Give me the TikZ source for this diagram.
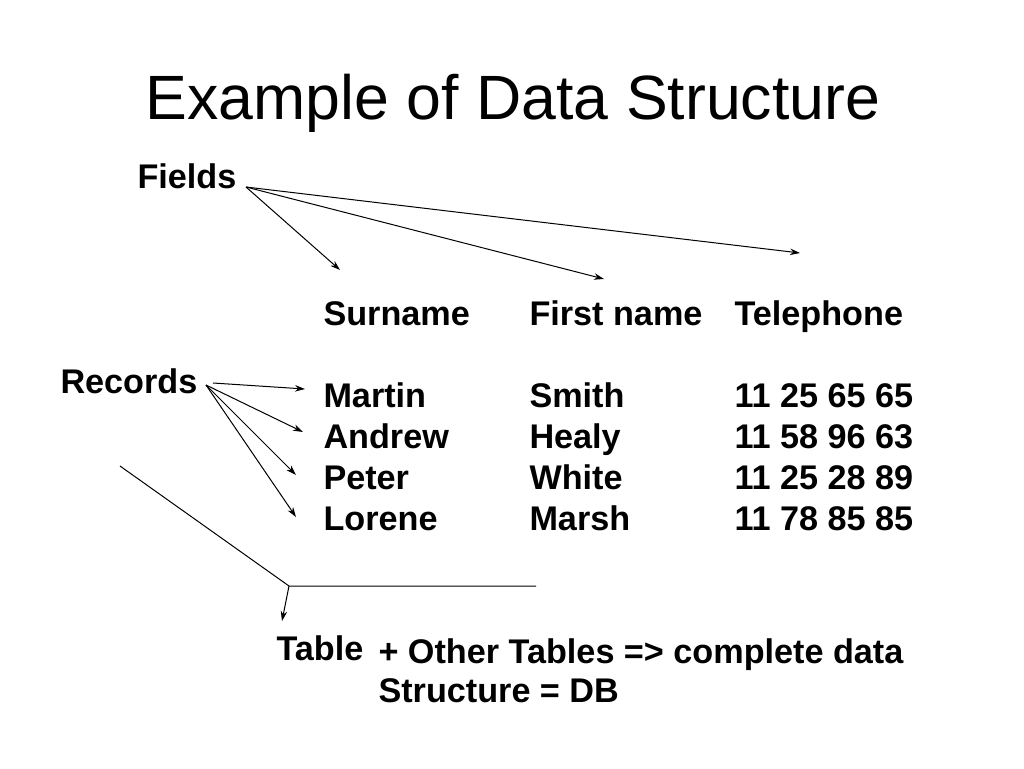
\documentclass[tikz,border=0pt]{standalone}
\usepackage{fontspec}
\setmainfont{Liberation Sans}
\usetikzlibrary{arrows.meta}

\begin{document}
\begin{tikzpicture}[x=1pt, y=-1pt, line width=1pt,
    >={Stealth[length=10pt,width=6.5pt]},
    txt/.style={anchor=base west, inner sep=0pt, font=\fontsize{34.2}{40}\selectfont\bfseries}]

    \useasboundingbox (0,0) rectangle (1024,768);

    \node [anchor=base, inner sep=0pt, font=\fontsize{62.6}{70}\selectfont] (title) at (513,119) {Example of Data Structure};

    \node [txt] (fields) at (137,188) {Fields};
    \node [txt] (records) at (60,393) {Records};
    \node [txt] (table) at (276,660) {Table};

    \node [txt] (h1) at (323,325) {Surname};
    \node [txt] (h2) at (529,325) {First name};
    \node [txt] (h3) at (734,325) {Telephone};

    \node [txt] (a1) at (323,407) {Martin};
    \node [txt] (a2) at (529,407) {Smith};
    \node [txt] (a3) at (734,407) {11 25 65 65};
    \node [txt] (b1) at (323,448) {Andrew};
    \node [txt] (b2) at (529,448) {Healy};
    \node [txt] (b3) at (734,448) {11 58 96 63};
    \node [txt] (c1) at (323,489) {Peter};
    \node [txt] (c2) at (529,489) {White};
    \node [txt] (c3) at (734,489) {11 25 28 89};
    \node [txt] (d1) at (323,530) {Lorene};
    \node [txt] (d2) at (529,530) {Marsh};
    \node [txt] (d3) at (734,530) {11 78 85 85};

    \node [txt] (db1) at (378,663) {+ Other Tables => complete data};
    \node [txt] (db2) at (378,702) {Structure = DB};

    \coordinate (f0) at (246,187);
    \coordinate (f1) at (340,270);
    \coordinate (f2) at (604,279);
    \coordinate (f3) at (800,253);
    \coordinate (r0) at (213,383);
    \coordinate (r1) at (206,385);
    \coordinate (ra) at (305,389);
    \coordinate (rb) at (303,432);
    \coordinate (rc) at (296,475);
    \coordinate (rd) at (296,517);
    \coordinate (t0) at (120,466);
    \coordinate (t1) at (289,586);
    \coordinate (t2) at (536,586);
    \coordinate (t3) at (282,621);

    \draw [->] (f0) to (f1);
    \draw [->] (f0) to (f2);
    \draw [->] (f0) to (f3);
    \draw [->] (r0) to (ra);
    \draw [->] (r1) to (rb);
    \draw [->] (r1) to (rc);
    \draw [->] (r1) to (rd);
    \draw (t0) -- (t1) -- (t2);
    \draw [->] (t1) to (t3);

\end{tikzpicture}
\end{document}
